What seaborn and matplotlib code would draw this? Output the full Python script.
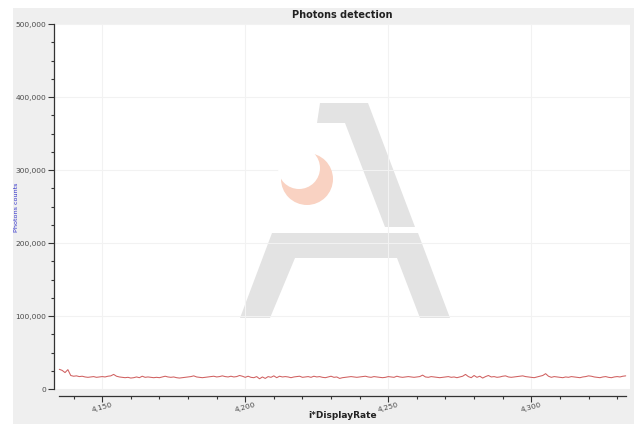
import numpy as np
import pandas as pd
import matplotlib
matplotlib.use("Agg")
import matplotlib.pyplot as plt
import seaborn as sns
from matplotlib.ticker import MultipleLocator, FuncFormatter
from matplotlib.patches import Rectangle, Polygon, Circle

x_start = 4135
counts = [
    27000, 25500, 22500, 26500, 18500, 17500, 18000, 17000, 17500, 16500,
    16000, 16500, 17000, 16000, 16500, 17000, 16500, 17500, 18000, 20000,
    17500, 16500, 16000, 15500, 16000, 15000, 15500, 16500, 15500, 17500,
    16000, 16500, 16000, 15500, 16000, 15500, 16500, 17500, 16500, 16000,
    16500, 15500, 15000, 15500, 16000, 16500, 17000, 18000, 16500, 16000,
    15500, 16000, 16500, 17000, 17500, 16500, 17000, 18000, 17000, 16500,
    17500, 16500, 17000, 18500, 17500, 16000, 17500, 16000, 15500, 17000,
    14000, 16500, 14500, 17000, 16000, 18000, 15500, 17500, 16500, 17000,
    16500, 15500, 16500, 17000, 17500, 16000, 16500, 17000, 16000, 17500,
    16500, 17000, 16000, 15500, 16500, 17500, 16000, 16500, 14500, 15500,
    16000, 16500, 17000, 16500, 16000, 16500, 17000, 17500, 16500, 16000,
    17000, 16500, 16000, 15500, 16000, 17000, 16500, 16000, 17500, 16500,
    16000, 16500, 17000, 16500, 16000, 16500, 17000, 19000, 16500, 16000,
    17000, 16500, 16000, 15500, 16000, 16500, 17000, 16000, 16500, 15500,
    16500, 17500, 20000, 17000, 15500, 18500, 16000, 17500, 15000, 17000,
    18500, 16500, 17000, 16000, 16500, 17500, 18000, 16500, 16000, 16500,
    17000, 17500, 18000, 17000, 16500, 16000, 15500, 16500, 17500, 18500,
    21000, 17500, 16000, 17000, 16500, 16000, 15500, 16500, 16000, 17000,
    16500, 16000, 15500, 16500, 17000, 18000, 17500, 16500, 16000, 15500,
    16500, 17000, 16000, 15500, 16500, 17000, 16500, 17500, 18000,
]
positions = list(range(x_start, x_start + len(counts)))
df = pd.DataFrame({"i*DisplayRate": positions, "Photons counts": counts})

sns.set_theme(style="white")
plt.rcParams['font.family'] = ['Verdana', 'DejaVu Sans']

W, H = 634, 424
fig = plt.figure(figsize=(W/100, H/100), dpi=100, facecolor="white")
fig.patches.append(Rectangle((13/W, 0), 1 - 13/W, 1 - 8/H, transform=fig.transFigure,
                             facecolor="#efefef", edgecolor="none", zorder=-10))
ax = fig.add_axes([55/W, 1 - 389/H, (630-55)/W, (389-24)/H])
ax.set_facecolor("white")

def F(px, py):
    return (px/W, 1 - py/H)

# faint watermark (decoration only)
for pts in [[F(320, 103), F(368, 103), F(415, 227), F(385, 227), F(345, 123), F(317, 123)],
            [F(272, 233), F(418, 233), F(450, 318), F(420, 318), F(397, 258), F(295, 258),
             F(270, 318), F(240, 318)]]:
    ax.add_patch(Polygon(pts, closed=True, transform=fig.transFigure, facecolor="#e3e3e3",
                         edgecolor="none", zorder=0.5))
ax.add_patch(Circle((307/100, (H-179)/100), 0.26, transform=fig.dpi_scale_trans,
                    facecolor="#f9d2c2", edgecolor="none", zorder=0.6))
ax.add_patch(Circle((299/100, (H-168)/100), 0.21, transform=fig.dpi_scale_trans,
                    facecolor="white", edgecolor="none", zorder=0.7))

sns.lineplot(data=df, x="i*DisplayRate", y="Photons counts", ax=ax, color="#d06060", linewidth=0.75)

ax.set_xlim(4133.5, 4334.5)
ax.set_ylim(0, 500000)
ax.yaxis.set_major_locator(MultipleLocator(100000))
ax.yaxis.set_minor_locator(MultipleLocator(25000))
ax.xaxis.set_major_locator(MultipleLocator(50))
ax.xaxis.set_minor_locator(MultipleLocator(10))
fmt = FuncFormatter(lambda v, p: f"{int(v):,}")
ax.yaxis.set_major_formatter(fmt)
ax.xaxis.set_major_formatter(fmt)
ax.grid(True, which="major", color="#f2f2f2", linewidth=0.8, zorder=0.8)

for s in ["top", "right"]:
    ax.spines[s].set_visible(False)
for s in ["left", "bottom"]:
    ax.spines[s].set_color("#333333")
    ax.spines[s].set_linewidth(0.9)
ax.spines["bottom"].set_position(("outward", 5))
ax.spines["left"].set_position(("outward", 1))
ax.spines["bottom"].set_bounds(4135, 4333)

ax.tick_params(axis="both", which="major", direction="out", length=4, width=0.8, color="#333333",
               labelsize=5.4, labelcolor="#4a4a4a", bottom=True, left=True, pad=1.5)
ax.tick_params(axis="both", which="minor", direction="out", length=2.5, width=0.8, color="#333333",
               bottom=True, left=True)
ax.tick_params(axis="x", which="major", pad=0)
plt.setp(ax.get_xticklabels(), rotation=15)

ax.set_xlabel("i*DisplayRate", fontsize=6.5, fontweight="bold", color="#222222")
ax.xaxis.set_label_coords(343/W, 8/H, transform=fig.transFigure)
ax.xaxis.label.set_verticalalignment("center")
ax.set_ylabel("Photons counts", fontsize=4.6, color="#3333cc")
ax.yaxis.set_label_coords(17/W, 1 - 207/H, transform=fig.transFigure)
ax.yaxis.label.set_verticalalignment("center")
ax.set_title("Photons detection", fontsize=7, fontweight="bold", color="#222222", pad=4)

fig.savefig("out.png", dpi=100, facecolor="white")
